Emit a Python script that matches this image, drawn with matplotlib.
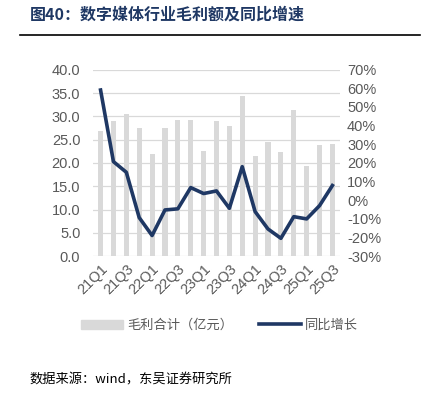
import matplotlib.pyplot as plt
from matplotlib.lines import Line2D

plt.rcParams['font.family'] = ['Liberation Sans', 'Noto Sans CJK SC']

# 数据
quarters = ['21Q1', '21Q2', '21Q3', '21Q4', '22Q1', '22Q2', '22Q3', '22Q4',
            '23Q1', '23Q2', '23Q3', '23Q4', '24Q1', '24Q2', '24Q3', '24Q4',
            '25Q1', '25Q2', '25Q3']
gross_profit = [26.9, 29.0, 30.6, 27.4, 21.9, 27.5, 29.2, 29.2, 22.6, 28.9,
                27.9, 34.4, 21.4, 24.4, 22.3, 31.4, 19.3, 23.9, 24.0]
yoy_growth = [59.1, 20.7, 15.0, -9.3, -18.9, -5.2, -4.6, 6.8, 3.6, 5.0,
              -4.3, 18.0, -6.1, -15.4, -20.4, -8.8, -10.0, -2.9, 7.9]

bar_color = '#D9D9D9'
line_color = '#1F3864'
tick_color = '#595959'

fig = plt.figure(figsize=(4.22, 3.96), dpi=100)
ax = fig.add_axes([0.220, 0.353, 0.586, 0.471])
ax2 = ax.twinx()

x = list(range(len(quarters)))
ax.bar(x, gross_profit, width=0.4, color=bar_color, zorder=2)
ax2.plot(x, yoy_growth, color=line_color, linewidth=2.6, zorder=3)

ax.set_ylim(0, 40)
ax.set_yticks([i * 5 for i in range(9)])
ax.set_yticklabels([f'{i * 5:.1f}' for i in range(9)])
ax2.set_ylim(-30, 70)
ax2.set_yticks(list(range(-30, 71, 10)))
ax2.set_yticklabels([f'{v}%' for v in range(-30, 71, 10)])

ax.set_xlim(-0.6, len(quarters) - 0.4)
ax.set_xticks(x[::2])
ax.set_xticklabels(quarters[::2], rotation=45, ha='right', rotation_mode='anchor')

ax.grid(axis='y', color='#D9D9D9', linewidth=0.9, zorder=0)
for a in (ax, ax2):
    for s in a.spines.values():
        s.set_visible(False)
    a.tick_params(length=0, labelsize=10.5, colors=tick_color)
ax.tick_params(axis='y', pad=9)
ax2.tick_params(axis='y', pad=5)
ax.tick_params(axis='x', pad=4)

# 图例
handles = [plt.Rectangle((0, 0), 1, 1, color=bar_color),
           Line2D([0], [0], color=line_color, linewidth=2.6)]
fig.legend(handles, ['毛利合计（亿元）', '同比增长'], loc='center',
           bbox_to_anchor=(0.52, 0.178), ncol=2, frameon=False,
           fontsize=9.5, labelcolor=tick_color, handlelength=3.2,
           handleheight=0.7, columnspacing=2.0, handletextpad=0.3)

# 标题
fig.text(0.07, 0.962, '图40：数字媒体行业毛利额及同比增速', fontsize=11.5,
         fontweight='bold', color='#1F3864', va='center', family='Noto Sans CJK SC')
fig.add_artist(Line2D([0.047, 0.995], [0.912, 0.912], color='black', linewidth=1.2))

fig.text(0.07, 0.040, '数据来源：wind，东吴证券研究所', fontsize=9.5,
         color='black', va='center', family='Noto Sans CJK SC')

fig.savefig('out.png', dpi=100)
